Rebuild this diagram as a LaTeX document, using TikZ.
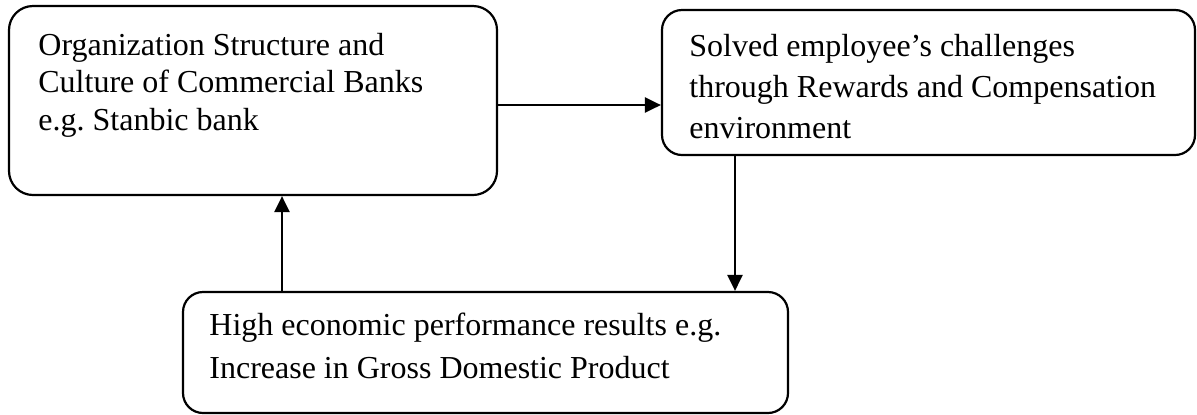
\documentclass[tikz,border=0pt]{standalone}
\usepackage{fontspec}
\setmainfont{Liberation Serif}
\usepackage{tikz}
\usetikzlibrary{calc}
\usetikzlibrary{arrows.meta}
\frenchspacing

\begin{document}
\begin{tikzpicture}[x=0.5pt, y=-0.5pt,
    box/.style={draw, line width=1.1pt, rounded corners=10pt, inner sep=0pt},
    txt/.style={anchor=base west, align=left, inner sep=0pt},
    arr/.style={line width=1.2pt, -{Triangle[length=8pt,width=7.5pt]}}]
  \useasboundingbox (0,0) rectangle (1197,414);

  % Boxes
  \node[box, rounded corners=12pt, minimum width=244pt, minimum height=94.5pt] (org)    at (253,100.5) {};
  \node[box, minimum width=266.5pt, minimum height=72.5pt]                   (solve)  at (928.5,82.5) {};
  \node[box, minimum width=302.5pt, minimum height=60.5pt]                   (result) at (485.5,352.5) {};

  % Texts (anchored at the baseline of their last line)
  \node[txt, font=\fontsize{16pt}{18.75pt}\selectfont] (orgtext) at (38,130)
    {Organization Structure and\\Culture of Commercial Banks\\e.g. Stanbic bank};
  \node[txt, font=\fontsize{16pt}{20.5pt}\selectfont] (solvetext) at (689,138)
    {Solved employee’s challenges\\through Rewards and Compensation\\environment};
  \node[txt, font=\fontsize{16pt}{21.5pt}\selectfont] (resulttext) at (209,378)
    {High economic performance results e.g.\\Increase in Gross Domestic Product};

  % Arrows
  \draw[arr] (org.east |- 0,105) -- (solve.west |- 0,105);
  \draw[arr] (solve.south -| 735,0) -- (result.north -| 735,0);
  \draw[arr] (result.north -| 282,0) -- (org.south -| 282,0);

\end{tikzpicture}
\end{document}
